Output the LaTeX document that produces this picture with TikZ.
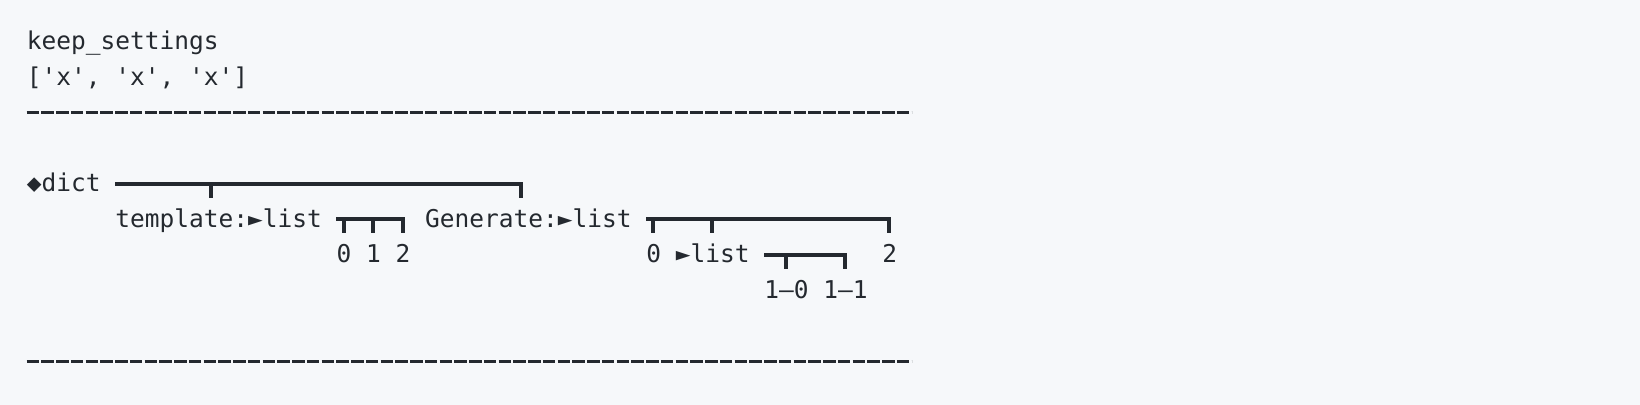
\documentclass[tikz,border=0pt]{standalone}
\usepackage{fontspec}
\setmonofont{DejaVu Sans Mono}
\definecolor{ink}{HTML}{24292F}
\definecolor{paper}{HTML}{F6F8FA}
\tikzset{
  txt/.style={anchor=base west, inner sep=0pt, yshift=-4pt, text=ink,
    font=\ttfamily\fontsize{12.25pt}{14pt}\selectfont},
  br/.style={draw=ink, line width=2pt, line join=miter},
  rule/.style={draw=ink, line width=1.5pt, dash pattern=on 6.25pt off 1.125pt},
}
\begin{document}
\begin{tikzpicture}[x=7.375pt, y=-17.75pt, shift={(13.25pt,-21pt)}]
        \fill[paper] (-13.25pt,21pt) rectangle (806.75pt,-181.5pt);
        % header
        \node[txt] (keep) at (0,0) {keep\_settings};
        \node[txt] (keepval) at (0,1) {['x', 'x', 'x']};
        \coordinate (topA) at (0,2);
        \coordinate (topB) at (60,2);
        \draw[rule] (topA)--(topB);
        % tree
        \node[txt] (dict) at (0,4) {◆dict};
        \node[txt] (tmpl) at (6,5) {template:►list};
        \node[txt] (gen) at (27,5) {Generate:►list};
        \foreach \c[count=\i from 0] in {21,23,25}
            {
                \node[txt] (tmpl\i) at (\c,6) {\i};
            }
        \node[txt] (gen0) at (42,6) {0};
        \node[txt] (gen1) at (44,6) {►list};
        \node[txt] (gen2) at (58,6) {2};
        \node[txt] (gen10) at (50,7) {1–0};
        \node[txt] (gen11) at (54,7) {1–1};
        % brackets
        \coordinate (dictA) at (6,4);
        \coordinate (dictB) at (33.5,4);
        \draw[br] (dictA)--(dictB)--++(0,-7pt);
        \draw[br] (12.5,4)--++(0,-7pt);
        \coordinate (tmplA) at (21,5);
        \coordinate (tmplB) at (25.5,5);
        \draw[br] (tmplA)--(tmplB)--++(0,-7pt);
        \foreach \x in {21.5,23.5}{ \draw[br] (\x,5)--++(0,-7pt);}
        \coordinate (genA) at (42,5);
        \coordinate (genB) at (58.5,5);
        \draw[br] (genA)--(genB)--++(0,-7pt);
        \foreach \x in {42.5,46.5}{ \draw[br] (\x,5)--++(0,-7pt);}
        \coordinate (subA) at (50,6);
        \coordinate (subB) at (55.5,6);
        \draw[br] (subA)--(subB)--++(0,-7pt);
        \draw[br] (51.5,6)--++(0,-7pt);
        % footer
        \coordinate (botA) at (0,9);
        \coordinate (botB) at (60,9);
        \draw[rule] (botA)--(botB);
    \end{tikzpicture}
\end{document}
